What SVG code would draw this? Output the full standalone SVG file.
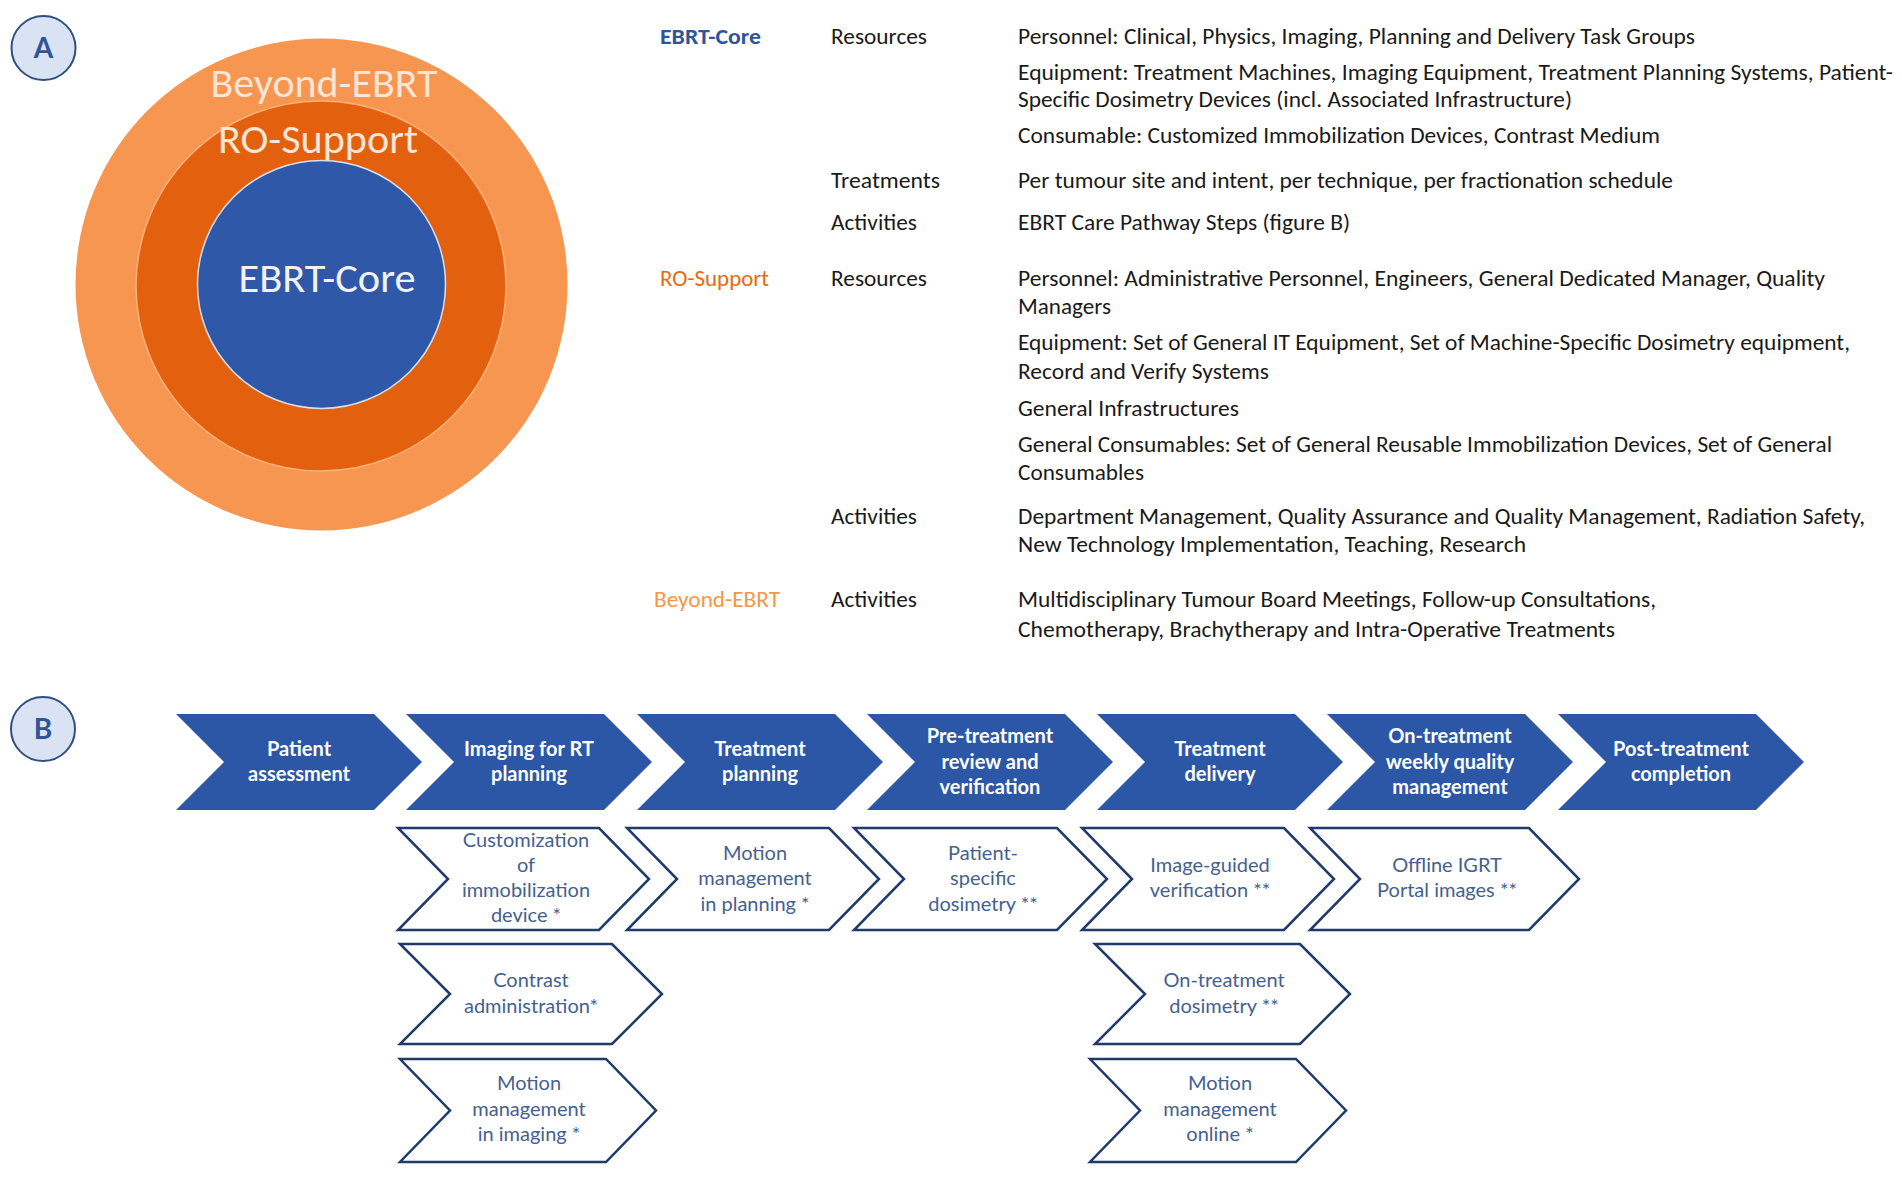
<svg xmlns="http://www.w3.org/2000/svg" width="1902" height="1182" viewBox="0 0 1902 1182">
<style>
.badge{fill:#dae3f3;stroke:#2f4f80;stroke-width:2}
.badgeT{font-family:Lato,"Liberation Sans",sans-serif;font-weight:bold;font-size:28px;fill:#2f5597;text-anchor:middle}
.ring{font-family:Carlito,Lato,"Liberation Sans",sans-serif;font-size:40px;text-anchor:middle}
.t{font-family:Carlito,Lato,"Liberation Sans",sans-serif;font-size:22.5px;fill:#1a1a1a}
.cat{font-family:Carlito,Lato,"Liberation Sans",sans-serif;font-size:22.5px}
.step{fill:#2c57a6}
.stepT{font-family:Lato,"Liberation Sans",sans-serif;font-weight:bold;font-size:20px;fill:#ffffff;text-anchor:middle}
.sub{fill:#ffffff;stroke:#1f3a6b;stroke-width:2.5;stroke-linejoin:miter}
.subT{font-family:Lato,"Liberation Sans",sans-serif;font-size:20px;fill:#44618f;text-anchor:middle}
</style>
<rect width="1902" height="1182" fill="#ffffff"/>

<!-- Panel A -->
<g id="badgeA"><circle class="badge" cx="43.5" cy="48" r="32"/><text class="badgeT" x="43.5" y="58">A</text></g>

<g id="rings">
<circle cx="321.5" cy="284.5" r="246" fill="#f79650"/>
<circle cx="321" cy="286" r="185" fill="#e2600e" stroke="#f9b27a" stroke-width="1.5"/>
<circle cx="321.5" cy="284.5" r="124" fill="#2f59a8" stroke="#d9e0f0" stroke-width="1.5"/>
<text class="ring" x="324" y="97" fill="#fbe5d6" textLength="227" lengthAdjust="spacingAndGlyphs">Beyond-EBRT</text>
<text class="ring" x="318" y="153" fill="#fbe5d6" textLength="200" lengthAdjust="spacingAndGlyphs">RO-Support</text>
<text class="ring" x="327" y="292" fill="#f2f2f2" textLength="177" lengthAdjust="spacingAndGlyphs">EBRT-Core</text>
</g>

<g id="table">
<text class="cat" x="660" y="44" fill="#2f5597" font-weight="bold" textLength="101" lengthAdjust="spacingAndGlyphs">EBRT-Core</text>
<text class="cat" x="660" y="286" fill="#e46c0a" textLength="109" lengthAdjust="spacingAndGlyphs">RO-Support</text>
<text class="cat" x="654" y="607" fill="#f79646" textLength="126" lengthAdjust="spacingAndGlyphs">Beyond-EBRT</text>

<text class="t" x="831" y="44" textLength="96" lengthAdjust="spacingAndGlyphs">Resources</text>
<text class="t" x="831" y="188" textLength="109" lengthAdjust="spacingAndGlyphs">Treatments</text>
<text class="t" x="831" y="230" textLength="86" lengthAdjust="spacingAndGlyphs">Activities</text>
<text class="t" x="831" y="286" textLength="96" lengthAdjust="spacingAndGlyphs">Resources</text>
<text class="t" x="831" y="524" textLength="86" lengthAdjust="spacingAndGlyphs">Activities</text>
<text class="t" x="831" y="607" textLength="86" lengthAdjust="spacingAndGlyphs">Activities</text>

<text class="t" x="1018" y="44" textLength="677" lengthAdjust="spacingAndGlyphs">Personnel: Clinical, Physics, Imaging, Planning and Delivery Task Groups</text>
<text class="t" x="1018" y="80" textLength="875" lengthAdjust="spacingAndGlyphs">Equipment: Treatment Machines, Imaging Equipment, Treatment Planning Systems, Patient-</text>
<text class="t" x="1018" y="107" textLength="554" lengthAdjust="spacingAndGlyphs">Specific Dosimetry Devices (incl. Associated Infrastructure)</text>
<text class="t" x="1018" y="143" textLength="642" lengthAdjust="spacingAndGlyphs">Consumable: Customized Immobilization Devices, Contrast Medium</text>
<text class="t" x="1018" y="188" textLength="655" lengthAdjust="spacingAndGlyphs">Per tumour site and intent, per technique, per fractionation schedule</text>
<text class="t" x="1018" y="230" textLength="332" lengthAdjust="spacingAndGlyphs">EBRT Care Pathway Steps (figure B)</text>
<text class="t" x="1018" y="286" textLength="807" lengthAdjust="spacingAndGlyphs">Personnel: Administrative Personnel, Engineers, General Dedicated Manager, Quality</text>
<text class="t" x="1018" y="314" textLength="93" lengthAdjust="spacingAndGlyphs">Managers</text>
<text class="t" x="1018" y="350" textLength="832" lengthAdjust="spacingAndGlyphs">Equipment: Set of General IT Equipment, Set of Machine-Specific Dosimetry equipment,</text>
<text class="t" x="1018" y="379" textLength="251" lengthAdjust="spacingAndGlyphs">Record and Verify Systems</text>
<text class="t" x="1018" y="416" textLength="221" lengthAdjust="spacingAndGlyphs">General Infrastructures</text>
<text class="t" x="1018" y="452" textLength="814" lengthAdjust="spacingAndGlyphs">General Consumables: Set of General Reusable Immobilization Devices, Set of General</text>
<text class="t" x="1018" y="480" textLength="126" lengthAdjust="spacingAndGlyphs">Consumables</text>
<text class="t" x="1018" y="524" textLength="847" lengthAdjust="spacingAndGlyphs">Department Management, Quality Assurance and Quality Management, Radiation Safety,</text>
<text class="t" x="1018" y="552" textLength="508" lengthAdjust="spacingAndGlyphs">New Technology Implementation, Teaching, Research</text>
<text class="t" x="1018" y="607" textLength="638" lengthAdjust="spacingAndGlyphs">Multidisciplinary Tumour Board Meetings, Follow-up Consultations,</text>
<text class="t" x="1018" y="637" textLength="597" lengthAdjust="spacingAndGlyphs">Chemotherapy, Brachytherapy and Intra-Operative Treatments</text>
</g>

<!-- Panel B -->
<g id="badgeB"><circle class="badge" cx="43" cy="729" r="32"/><text class="badgeT" x="43" y="739">B</text></g>

<g id="step1"><polygon class="step" points="176,714 374,714 422,762 374,810 176,810 224,762"/>
<text class="stepT" x="299" y="755.5">Patient</text><text class="stepT" x="299" y="781">assessment</text></g>
<g id="step2"><polygon class="step" points="406,714 604,714 652,762 604,810 406,810 454,762"/>
<text class="stepT" x="529" y="755.5">Imaging for RT</text><text class="stepT" x="529" y="781">planning</text></g>
<g id="step3"><polygon class="step" points="637,714 835,714 883,762 835,810 637,810 685,762"/>
<text class="stepT" x="760" y="755.5">Treatment</text><text class="stepT" x="760" y="781">planning</text></g>
<g id="step4"><polygon class="step" points="867,714 1065,714 1113,762 1065,810 867,810 915,762"/>
<text class="stepT" x="990" y="743">Pre-treatment</text><text class="stepT" x="990" y="768.5">review and</text><text class="stepT" x="990" y="794">verification</text></g>
<g id="step5"><polygon class="step" points="1097,714 1295,714 1343,762 1295,810 1097,810 1145,762"/>
<text class="stepT" x="1220" y="755.5">Treatment</text><text class="stepT" x="1220" y="781">delivery</text></g>
<g id="step6"><polygon class="step" points="1327,714 1525,714 1573,762 1525,810 1327,810 1375,762"/>
<text class="stepT" x="1450" y="743">On-treatment</text><text class="stepT" x="1450" y="768.5">weekly quality</text><text class="stepT" x="1450" y="794">management</text></g>
<g id="step7"><polygon class="step" points="1558,714 1756,714 1804,762 1756,810 1558,810 1606,762"/>
<text class="stepT" x="1681" y="755.5">Post-treatment</text><text class="stepT" x="1681" y="781">completion</text></g>

<g id="sub-customization"><polygon class="sub" points="398,828 599,828 649,879 599,930 398,930 448,879"/>
<text class="subT" x="526" y="847">Customization</text><text class="subT" x="526" y="872">of</text><text class="subT" x="526" y="897">immobilization</text><text class="subT" x="526" y="922">device *</text></g>
<g id="sub-motion-planning"><polygon class="sub" points="627,828 829,828 879,879 829,930 627,930 677,879"/>
<text class="subT" x="755" y="860">Motion</text><text class="subT" x="755" y="885">management</text><text class="subT" x="755" y="911">in planning *</text></g>
<g id="sub-psd"><polygon class="sub" points="854,828 1057,828 1107,879 1057,930 854,930 904,879"/>
<text class="subT" x="983" y="860">Patient-</text><text class="subT" x="983" y="885">specific</text><text class="subT" x="983" y="911">dosimetry **</text></g>
<g id="sub-igv"><polygon class="sub" points="1082,828 1284,828 1334,879 1284,930 1082,930 1132,879"/>
<text class="subT" x="1210" y="872">Image-guided</text><text class="subT" x="1210" y="897">verification **</text></g>
<g id="sub-offline"><polygon class="sub" points="1310,828 1529,828 1579,879 1529,930 1310,930 1360,879"/>
<text class="subT" x="1447" y="872">Offline IGRT</text><text class="subT" x="1447" y="897">Portal images **</text></g>
<g id="sub-contrast"><polygon class="sub" points="400,944 612,944 662,994 612,1044 400,1044 450,994"/>
<text class="subT" x="531" y="987">Contrast</text><text class="subT" x="531" y="1013">administration*</text></g>
<g id="sub-ontreat-dos"><polygon class="sub" points="1095,944 1300,944 1350,994 1300,1044 1095,1044 1145,994"/>
<text class="subT" x="1224" y="987">On-treatment</text><text class="subT" x="1224" y="1013">dosimetry **</text></g>
<g id="sub-motion-imaging"><polygon class="sub" points="400,1059 606,1059 656,1110.5 606,1162 400,1162 450,1110.5"/>
<text class="subT" x="529" y="1090">Motion</text><text class="subT" x="529" y="1116">management</text><text class="subT" x="529" y="1141">in imaging *</text></g>
<g id="sub-motion-online"><polygon class="sub" points="1090,1059 1296,1059 1346,1110.5 1296,1162 1090,1162 1140,1110.5"/>
<text class="subT" x="1220" y="1090">Motion</text><text class="subT" x="1220" y="1116">management</text><text class="subT" x="1220" y="1141">online *</text></g>
</svg>
